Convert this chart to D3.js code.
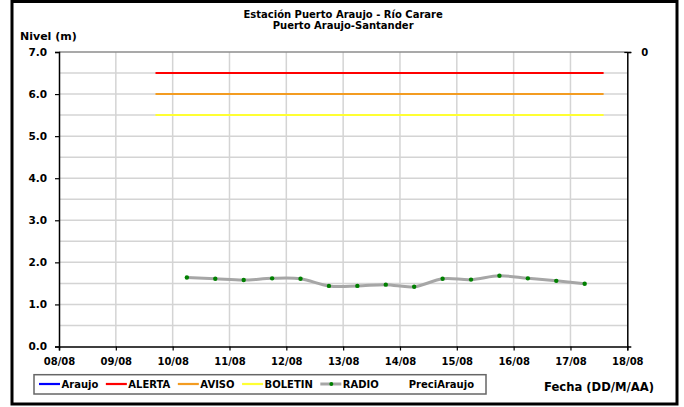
<!DOCTYPE html>
<html>
<head>
<meta charset="utf-8">
<script src="https://cdn.jsdelivr.net/npm/d3@7"></script>
<style>
  html, body { margin: 0; padding: 0; background: #fff; }
  svg { display: block; }
  text { font-family: "DejaVu Sans", sans-serif; font-weight: bold; fill: #000; }
</style>
</head>
<body>
<svg id="chart" width="684" height="407"></svg>
<script>
// ---------- data ----------
const titleLines = ["Estación Puerto Araujo - Río Carare", "Puerto Araujo-Santander"];
const yAxisTitle = "Nivel (m)";
const xAxisTitle = "Fecha (DD/M/AA)";
const xDomain = ["2012-08-08T00:00", "2012-08-18T00:00"];
const yTicks = [0, 1, 2, 3, 4, 5, 6, 7];
const rightTicks = [0];

const radioDates = [
  "2012-08-10T06:00", "2012-08-10T18:00", "2012-08-11T06:00", "2012-08-11T18:00",
  "2012-08-12T06:00", "2012-08-12T18:00", "2012-08-13T06:00", "2012-08-13T18:00",
  "2012-08-14T06:00", "2012-08-14T18:00", "2012-08-15T06:00", "2012-08-15T18:00",
  "2012-08-16T06:00", "2012-08-16T18:00", "2012-08-17T06:00"
];
const radioValues = [1.64, 1.61, 1.58, 1.62, 1.61, 1.44, 1.44, 1.47, 1.42, 1.61, 1.59, 1.68, 1.62, 1.56, 1.49];

const thresholdDates = ["2012-08-09T16:45", "2012-08-17T14:00"];
const alertaValue = 6.5;
const avisoValue = 6.0;
const boletinValue = 5.5;

const legendNames = ["Araujo", "ALERTA", "AVISO", "BOLETIN", "RADIO", "PreciAraujo"];
const legendColors = ["#0000ff", "#ff0000", "#f39c21", "#ffff33", "#a6a6a6", null];

// ---------- layout ----------
const svg = d3.select("#chart");
const parse = d3.timeParse("%Y-%m-%dT%H:%M");
const plot = { left: 59, right: 627.3, top: 52, bottom: 346.5 };

const x = d3.scaleTime().domain(xDomain.map(parse)).range([plot.left, plot.right]);
const y = d3.scaleLinear().domain([0, 7]).range([plot.bottom, plot.top]);
const y2 = d3.scaleLinear().domain([0, 1]).range([plot.top, plot.bottom]);

// outer frame
svg.append("rect").attr("x", 12).attr("y", 1.5).attr("width", 665).attr("height", 402.5)
  .attr("fill", "#fff").attr("stroke", "#000").attr("stroke-width", 3);

// gridlines
const hGrid = d3.range(0.5, 7.0, 0.5);
svg.append("g").selectAll("line").data(hGrid).join("line")
  .attr("x1", plot.left).attr("x2", plot.right)
  .attr("y1", d => y(d)).attr("y2", d => y(d))
  .attr("stroke", "#d4d4d4").attr("stroke-width", 1.5);
const vGrid = x.ticks(d3.timeDay.every(1)).slice(1, -1);
svg.append("g").selectAll("line").data(vGrid).join("line")
  .attr("x1", d => x(d)).attr("x2", d => x(d))
  .attr("y1", plot.top).attr("y2", plot.bottom)
  .attr("stroke", "#d4d4d4").attr("stroke-width", 1.5);
// top border line of plot
svg.append("line").attr("x1", plot.left).attr("x2", plot.right)
  .attr("y1", y(7)).attr("y2", y(7)).attr("stroke", "#8c8c8c").attr("stroke-width", 1.5);

// threshold lines
const thr = [[alertaValue, legendColors[1]], [avisoValue, legendColors[2]], [boletinValue, legendColors[3]]];
const tDates = thresholdDates.map(parse);
svg.append("g").selectAll("line").data(thr).join("line")
  .attr("x1", x(tDates[0])).attr("x2", x(tDates[1]))
  .attr("y1", d => y(d[0])).attr("y2", d => y(d[0]))
  .attr("stroke", d => d[1]).attr("stroke-width", 2);

// radio series
const radio = radioDates.map((d, i) => ({ date: parse(d), value: radioValues[i] }));
svg.append("path").datum(radio)
  .attr("fill", "none").attr("stroke", "#a6a6a6").attr("stroke-width", 3)
  .attr("stroke-linejoin", "round")
  .attr("d", d3.line().x(d => x(d.date)).y(d => y(d.value)).curve(d3.curveCatmullRom.alpha(0)));
svg.append("g").selectAll("circle").data(radio).join("circle")
  .attr("cx", d => x(d.date)).attr("cy", d => y(d.value)).attr("r", 2.2)
  .attr("fill", "#008000");

// axes
const axisStyle = g => {
  g.selectAll("path.domain").attr("stroke", "#000").attr("stroke-width", 1.5);
  g.selectAll(".tick line").attr("stroke", "#000").attr("stroke-width", 1.2);
  g.selectAll("text").attr("font-family", "DejaVu Sans").attr("font-weight", "bold").attr("fill", "#000");
};

svg.append("g").attr("transform", `translate(${plot.left},0)`)
  .call(d3.axisLeft(y).tickValues(yTicks).tickFormat(d3.format(".1f")).tickSizeOuter(0).tickSize(4).tickPadding(8))
  .call(axisStyle).call(g => g.selectAll("text").attr("font-size", 10.5));

svg.append("g").attr("transform", `translate(0,${plot.bottom})`)
  .call(d3.axisBottom(x).ticks(d3.timeDay.every(1)).tickFormat(d3.timeFormat("%d/%m")).tickSizeOuter(0).tickSize(4).tickPadding(7.4))
  .call(axisStyle).call(g => g.selectAll("text").attr("font-size", 10));

svg.append("g").attr("transform", `translate(${plot.right},0)`)
  .call(d3.axisRight(y2).tickValues(rightTicks).tickFormat(d3.format("d")).tickSizeOuter(0).tickSize(4).tickPadding(10))
  .call(axisStyle).call(g => g.selectAll("text").attr("font-size", 10))
  .call(g => g.selectAll(".tick line").attr("x1", -3));

// titles
svg.append("text").attr("x", (plot.left + plot.right) / 2).attr("y", 17.6)
  .attr("text-anchor", "middle").attr("font-size", 10).text(titleLines[0]);
svg.append("text").attr("x", (plot.left + plot.right) / 2).attr("y", 29.4)
  .attr("text-anchor", "middle").attr("font-size", 10).text(titleLines[1]);
svg.append("text").attr("x", 20).attr("y", 39.5).attr("font-size", 11).text(yAxisTitle);
svg.append("text").attr("x", 544).attr("y", 391).attr("font-size", 11.6).text(xAxisTitle);

// legend
const lg = svg.append("g");
lg.append("rect").attr("x", 34).attr("y", 374.7).attr("width", 452).attr("height", 19.3)
  .attr("fill", "#fff").attr("stroke", "#666").attr("stroke-width", 1.5);
let cx = 39;
legendNames.forEach((name, i) => {
  const col = legendColors[i];
  if (col) {
    lg.append("line").attr("x1", cx).attr("x2", cx + 21).attr("y1", 384).attr("y2", 384)
      .attr("stroke", col).attr("stroke-width", name === "RADIO" ? 3 : 2.2);
    if (name === "RADIO") {
      lg.append("circle").attr("cx", cx + 11).attr("cy", 384).attr("r", 2).attr("fill", "#008000");
    }
  }
  const t = lg.append("text").attr("x", cx + 22.5).attr("y", 388).attr("font-size", 10).text(name);
  cx = cx + 22.5 + t.node().getComputedTextLength() + 7.5;
});
</script>
</body>
</html>
